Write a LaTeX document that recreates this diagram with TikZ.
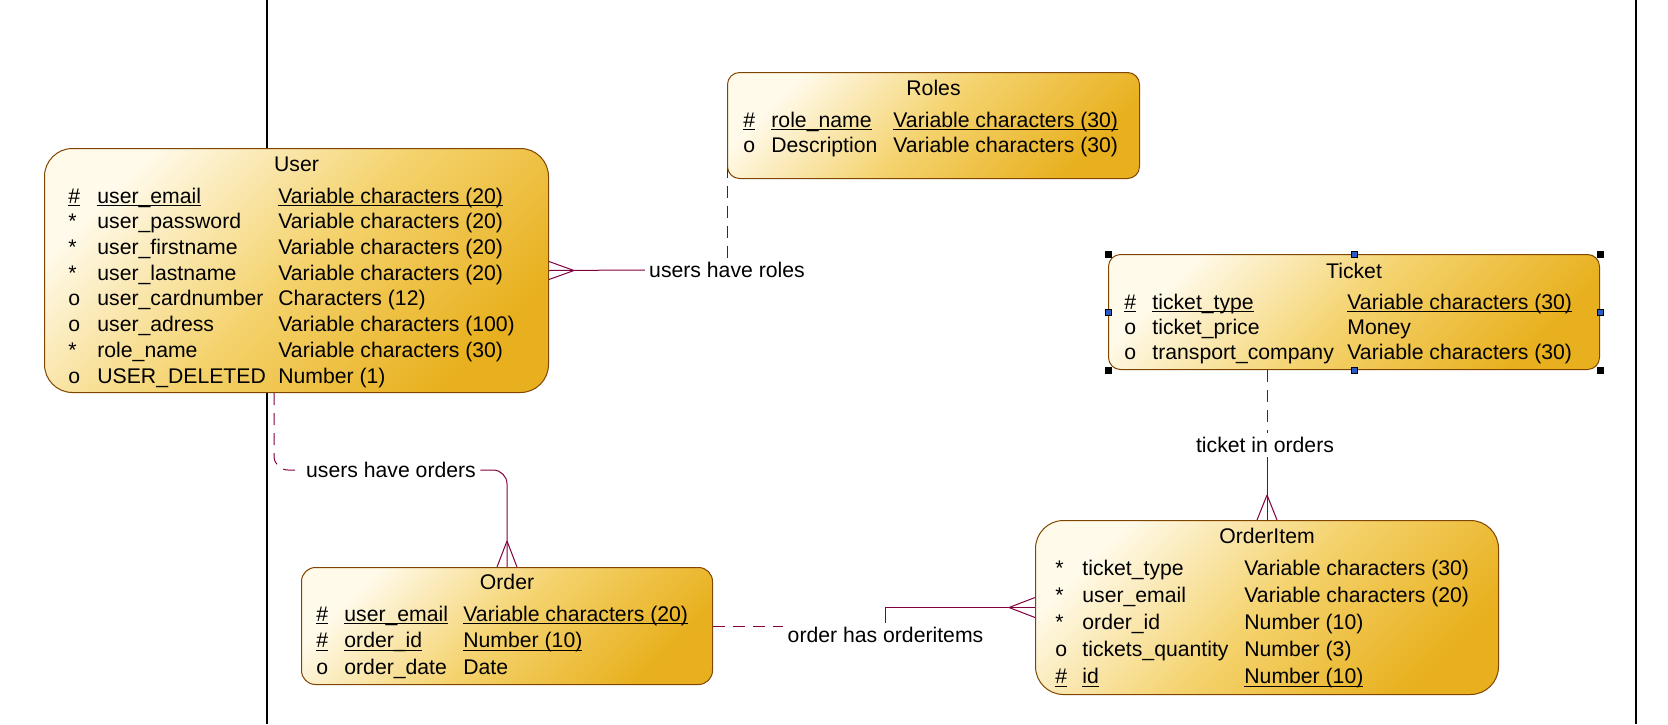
\documentclass[tikz,border=0pt]{standalone}
\usepackage{fontspec}
\setmainfont{Liberation Sans}
\usetikzlibrary{positioning,calc,backgrounds}
\definecolor{EntityLight}{RGB}{255,250,234}
\definecolor{EntityMid}{RGB}{244,210,108}
\definecolor{EntityGold}{RGB}{232,176,30}
\definecolor{EntityBorder}{RGB}{128,70,0}
\definecolor{RelLine}{RGB}{128,0,64}
\definecolor{HandleBlue}{RGB}{40,90,200}

\newcommand{\erfont}{\fontsize{10.6}{12.5}\selectfont}
\newcommand{\keyul}[1]{\underline{\smash{#1}}}
% crow's foot: end point on the box, apex offset, spread offset
\newcommand{\crowfoot}[3]{%
  \draw[relline] ($(#1)+(#2)$) -- ($(#1)+(#3)$)
                 ($(#1)+(#2)$) -- ($(#1)-(#3)$);}

\tikzset{
  entity/.style={draw=EntityBorder, line width=0.5pt, anchor=north west,
    inner sep=0pt, top color=EntityLight, bottom color=EntityGold,
    middle color=EntityMid, shading angle=45},
  etitle/.style={anchor=base, inner sep=0pt, font=\erfont},
  erows/.style={anchor=base west, inner sep=0pt,
    font=\fontsize{10.6}{#1}\selectfont},
  rlabel/.style={inner sep=2pt, font=\erfont},
  relline/.style={draw=RelLine, line width=0.5pt},
  reldash/.style={relline, dash pattern=on 6pt off 4pt},
  pageline/.style={draw=black, line width=0.7pt},
  handle/.style={fill=black, draw=black, line width=0.4pt,
    minimum size=3pt, inner sep=0pt}
}

\begin{document}
\begin{tikzpicture}[x=0.5pt, y=-0.5pt]
\useasboundingbox (0,0) rectangle (1668,724);

% entities
\node[entity, rounded corners=14pt, minimum width=252pt, minimum height=122pt] (user) at (44,148) {};
\node[etitle] (user title) at ($(user.north)+(0,23)$) {User};
\node[erows=12.86pt] (user rows) at ($(user.north west)+(24,55)$) {%
\begin{tabular}[t]{@{}p{14.5pt}@{}p{90.5pt}@{}l@{}}
\keyul{\#} & \keyul{user\_email} & \keyul{Variable characters (20)}\\
{*} & user\_password & Variable characters (20)\\
{*} & user\_firstname & Variable characters (20)\\
{*} & user\_lastname & Variable characters (20)\\
o & user\_cardnumber & Characters (12)\\
o & user\_adress & Variable characters (100)\\
{*} & role\_name & Variable characters (30)\\
o & USER\_DELETED & Number (1)
\end{tabular}};

\node[entity, rounded corners=6pt, minimum width=206pt, minimum height=53pt] (roles) at (727,72) {};
\node[etitle] (roles title) at ($(roles.north)+(0,23)$) {Roles};
\node[erows=12.5pt] (roles rows) at ($(roles.north west)+(16,55)$) {%
\begin{tabular}[t]{@{}p{14pt}@{}p{61pt}@{}l@{}}
\keyul{\#} & \keyul{role\_name} & \keyul{Variable characters (30)}\\
o & Description & Variable characters (30)
\end{tabular}};

\node[entity, rounded corners=6pt, minimum width=245.5pt, minimum height=57.5pt] (ticket) at (1108,254) {};
\node[etitle] (ticket title) at ($(ticket.north)+(0,24)$) {Ticket};
\node[erows=12.5pt] (ticket rows) at ($(ticket.north west)+(16,55)$) {%
\begin{tabular}[t]{@{}p{14pt}@{}p{97.5pt}@{}l@{}}
\keyul{\#} & \keyul{ticket\_type} & \keyul{Variable characters (30)}\\
o & ticket\_price & Money\\
o & transport\_company & Variable characters (30)
\end{tabular}};

\node[entity, rounded corners=7pt, minimum width=205.5pt, minimum height=58.5pt] (order) at (301,567) {};
\node[etitle] (order title) at ($(order.north)+(0,22)$) {Order};
\node[erows=13.25pt] (order rows) at ($(order.north west)+(15,54)$) {%
\begin{tabular}[t]{@{}p{14pt}@{}p{59.5pt}@{}l@{}}
\keyul{\#} & \keyul{user\_email} & \keyul{Variable characters (20)}\\
\keyul{\#} & \keyul{order\_id} & \keyul{Number (10)}\\
o & order\_date & Date
\end{tabular}};

\node[entity, rounded corners=14pt, minimum width=231.5pt, minimum height=87pt] (orderitem) at (1035,520) {};
\node[etitle] (orderitem title) at ($(orderitem.north)+(0,23)$) {OrderItem};
\node[erows=13.6pt] (orderitem rows) at ($(orderitem.north west)+(20,55)$) {%
\begin{tabular}[t]{@{}p{13.5pt}@{}p{81pt}@{}l@{}}
{*} & ticket\_type & Variable characters (30)\\
{*} & user\_email & Variable characters (20)\\
{*} & order\_id & Number (10)\\
o & tickets\_quantity & Number (3)\\
\keyul{\#} & \keyul{id} & \keyul{Number (10)}
\end{tabular}};

% selection handles
\foreach \a in {north west,north east,south west,south east}
  \node[handle] (h \a) at (ticket.\a) {};
\foreach \a in {north,south,east,west}
  \node[handle, fill=HandleBlue] (h \a) at (ticket.\a) {};

% relationship labels
\node[rlabel] (roles lbl) at (727,270) {users have roles};
\node[rlabel] (orders lbl) at (391,470) {users have orders};
\node[rlabel] (tick lbl) at (1265,445) {ticket in orders};
\node[rlabel] (oi lbl) at (885.5,635) {order has orderitems};

\begin{scope}[on background layer]
\draw[pageline] (267,0) -- (267,724);
\draw[pageline] (1636,0) -- (1636,724);

% users have roles
\draw[relline] (user.east) -- (roles lbl.west);
\crowfoot{user.east}{25,0}{0,9}
\draw[reldash] (roles lbl.north |- roles.center) -- (roles lbl.north);

% users have orders
\coordinate (uo start) at ($(user.south west)+(230,0)$);
\draw[reldash, rounded corners=7pt] (uo start) |- (orders lbl.west);
\draw[relline, rounded corners=7pt] (orders lbl.east) -| (order.north);
\crowfoot{order.north}{0,-26}{10,0}

% ticket in orders
\draw[reldash] (orderitem.north |- ticket.south) -- (orderitem.north |- tick lbl.north);
\draw[relline] (orderitem.north |- tick lbl.south) -- (orderitem.north);
\crowfoot{orderitem.north}{0,-25}{10,0}

% order has orderitems
\draw[reldash] (order.east) -- (order.east -| oi lbl.west);
\draw[relline] (oi lbl.north) |- (orderitem.west);
\crowfoot{orderitem.west}{-26,0}{0,10}
\end{scope}
\end{tikzpicture}
\end{document}
